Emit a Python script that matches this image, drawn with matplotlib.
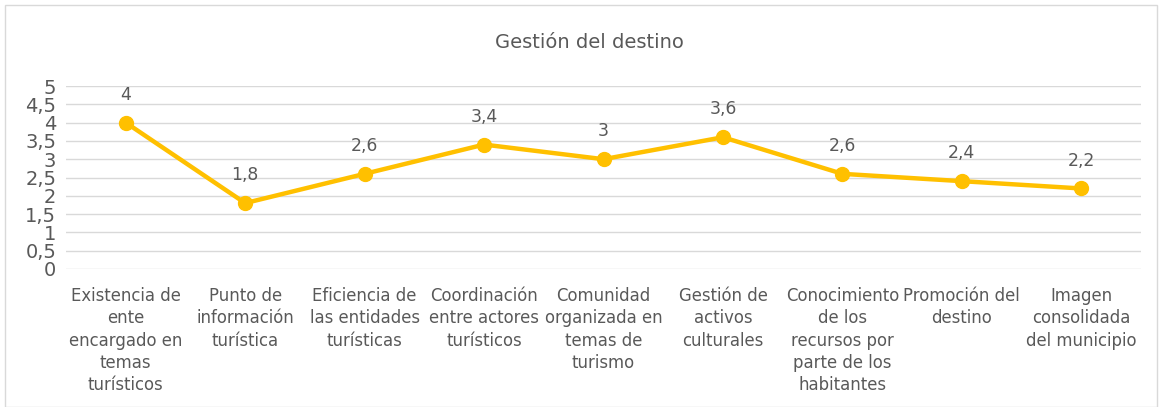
import matplotlib
matplotlib.use("Agg")
import matplotlib.pyplot as plt
from matplotlib.patches import Rectangle
from matplotlib.ticker import FuncFormatter

categories = [
    "Existencia de\nente\nencargado en\ntemas\nturísticos",
    "Punto de\ninformación\nturística",
    "Eficiencia de\nlas entidades\nturísticas",
    "Coordinación\nentre actores\nturísticos",
    "Comunidad\norganizada en\ntemas de\nturismo",
    "Gestión de\nactivos\nculturales",
    "Conocimiento\nde los\nrecursos por\nparte de los\nhabitantes",
    "Promoción del\ndestino",
    "Imagen\nconsolidada\ndel municipio",
]
values = [4, 1.8, 2.6, 3.4, 3, 3.6, 2.6, 2.4, 2.2]
yticks = [0, 0.5, 1, 1.5, 2, 2.5, 3, 3.5, 4, 4.5, 5]

TXT = "#595959"
LINE = "#FFC000"
GRID = "#D9D9D9"

plt.rcParams['font.family'] = ['DejaVu Sans']

fig = plt.figure(figsize=(11.62, 4.07), dpi=100)
fig.patches.append(Rectangle((5/1162, 0), 1152/1162, 402/407, transform=fig.transFigure,
                             fill=False, edgecolor="#D9D9D9", linewidth=1))
ax = fig.add_axes([66/1162, 138/407, (1141-66)/1162, (269-86)/407])

x = list(range(len(values)))
ax.plot(x, values, color=LINE, linewidth=3.2, marker='o', markersize=10,
        markerfacecolor=LINE, markeredgecolor=LINE, zorder=3, solid_capstyle='round')

def fmt(v):
    return ("%g" % v).replace(".", ",")

for xi, v in zip(x, values):
    ax.annotate(fmt(v), (xi, v), xytext=(0, 13.5), textcoords="offset points",
                ha="center", va="bottom", fontsize=12.4, color=TXT)

ax.set_xlim(-0.5, len(values) - 0.5)
ax.set_ylim(0, 5)
ax.set_yticks(yticks)
ax.yaxis.set_major_formatter(FuncFormatter(lambda v, p: fmt(v)))
ax.set_xticks(x)
ax.set_xticklabels(categories, fontsize=11.9, color=TXT, linespacing=1.31)
ax.tick_params(axis='x', length=0, pad=13)
ax.tick_params(axis='y', length=0, pad=7, labelsize=14, labelcolor=TXT)
ax.grid(axis='y', color=GRID, linewidth=1)
ax.set_axisbelow(True)
for s in ax.spines.values():
    s.set_visible(False)

fig.text(589/1162, 1 - 42/407, "Gestión del destino", ha="center", va="center",
         fontsize=14, color=TXT)

fig.savefig("out.png", dpi=100)
